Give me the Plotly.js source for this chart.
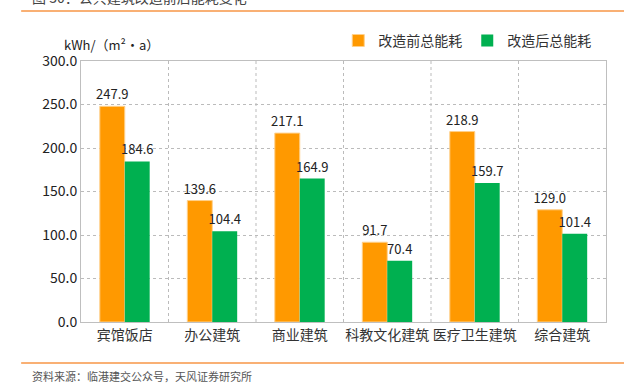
<!DOCTYPE html>
<html><head><meta charset="utf-8">
<script src="https://cdn.plot.ly/plotly-3.0.1.min.js"></script>
<style>body{margin:0;padding:0;background:#fff}#chart{width:624px;height:385px}</style>
</head><body><div id="chart"></div>
<script>
const categories = ["宾馆饭店","办公建筑","商业建筑","科教文化建筑","医疗卫生建筑","综合建筑"];
const before = [247.9,139.6,217.1,91.7,218.9,129.0];
const after = [184.6,104.4,164.9,70.4,159.7,101.4];
const seriesNames = ["改造前总能耗","改造后总能耗"];
const yTicks = [0,50,100,150,200,250,300];

const font = "'Noto Sans CJK SC', 'Noto Sans', sans-serif";
const traces = [
  {type:'bar', name:seriesNames[0], x:categories, y:before, marker:{color:'#FF9900', line:{color:'#FFD08A', width:1}},
   text:before.map(v=>v.toFixed(1)), textposition:'outside', constraintext:'none', cliponaxis:false, textfont:{size:13,color:'#222',family:font}},
  {type:'bar', name:seriesNames[1], x:categories, y:after, marker:{color:'#00B050', line:{color:'#7FD8A7', width:0}},
   text:after.map(v=>v.toFixed(1)), textposition:'outside', constraintext:'none', cliponaxis:false, textfont:{size:13,color:'#222',family:font}}
];
const shapes = [];
for (let i=0;i<categories.length-1;i++){
  shapes.push({type:'line', xref:'x', yref:'paper', x0:i+0.5, x1:i+0.5, y0:0, y1:1, line:{color:'#BBBBBB', width:1, dash:'dot'}});
}
shapes.push({type:'line', xref:'paper', yref:'paper', x0:-0.114, x1:1.04, y0:1.1916, y1:1.1916, line:{color:'#F79646', width:1.5}});
shapes.push({type:'line', xref:'paper', yref:'paper', x0:-0.114, x1:1.04, y0:-0.157, y1:-0.157, line:{color:'#F79646', width:1.5}});

const layout = {
  width:624, height:385,
  margin:{l:81, r:18, t:61, b:63},
  paper_bgcolor:'#fff', plot_bgcolor:'#fff',
  font:{family:font, color:'#333'},
  barmode:'group', bargap:0.43, bargroupgap:0,
  showlegend:true,
  legend:{orientation:'h', x:0.49, y:1.077, xanchor:'left', yanchor:'middle', font:{size:14,color:'#333'}, itemwidth:30, tracegroupgap:0},
  xaxis:{type:'category', showline:true, linecolor:'#BFBFBF', linewidth:1, mirror:true, showgrid:false, ticks:'', tickfont:{size:14,color:'#333'}, fixedrange:true},
  yaxis:{range:[0,300], tickvals:yTicks, ticktext:yTicks.map(v=>v.toFixed(1)), showline:true, linecolor:'#BFBFBF', mirror:true,
         showgrid:true, gridcolor:'#BBBBBB', griddash:'dot', gridwidth:1, zeroline:false, ticks:'', ticklen:0, tickfont:{size:14,color:'#222'}},
  shapes:shapes,
  annotations:[
    {xref:'paper', yref:'paper', x:-0.036, y:1.065, xanchor:'left', yanchor:'middle', text:'kWh/（m²·a）', showarrow:false, font:{size:13,color:'#222'}},
    {xref:'paper', yref:'paper', x:-0.097, y:1.2, xanchor:'left', yanchor:'bottom', text:'图 30：公共建筑改造前后能耗变化', showarrow:false, font:{size:14,color:'#444'}},
    {xref:'paper', yref:'paper', x:-0.097, y:-0.205, xanchor:'left', yanchor:'middle', text:'资料来源：临港建交公众号，天风证券研究所', showarrow:false, font:{size:11,color:'#555'}}
  ]
};
Plotly.newPlot('chart', traces, layout, {displayModeBar:false, staticPlot:true});
</script></body></html>
